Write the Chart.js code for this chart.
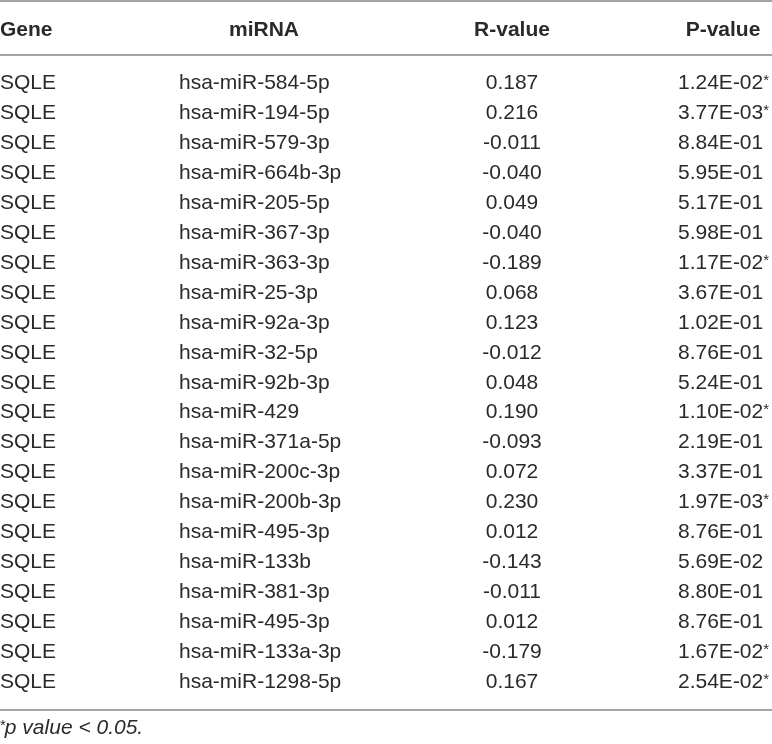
<!DOCTYPE html>
<html>
<head>
<meta charset="utf-8">
<script src="https://cdn.jsdelivr.net/npm/chart.js@4.4.1/dist/chart.umd.min.js"></script>
<style>
  html, body { margin: 0; padding: 0; background: #fff; }
  #wrap { width: 772px; height: 744px; }
</style>
</head>
<body>
<div id="wrap"><canvas id="table" width="772" height="744"></canvas></div>
<script>
// table data
const headers = ["Gene", "miRNA", "R-value", "P-value"];

const genes = ["SQLE", "SQLE", "SQLE", "SQLE", "SQLE", "SQLE", "SQLE",
               "SQLE", "SQLE", "SQLE", "SQLE", "SQLE", "SQLE", "SQLE",
               "SQLE", "SQLE", "SQLE", "SQLE", "SQLE", "SQLE", "SQLE"];

const mirnas = ["hsa-miR-584-5p", "hsa-miR-194-5p", "hsa-miR-579-3p", "hsa-miR-664b-3p",
                "hsa-miR-205-5p", "hsa-miR-367-3p", "hsa-miR-363-3p", "hsa-miR-25-3p",
                "hsa-miR-92a-3p", "hsa-miR-32-5p", "hsa-miR-92b-3p", "hsa-miR-429",
                "hsa-miR-371a-5p", "hsa-miR-200c-3p", "hsa-miR-200b-3p", "hsa-miR-495-3p",
                "hsa-miR-133b", "hsa-miR-381-3p", "hsa-miR-495-3p", "hsa-miR-133a-3p",
                "hsa-miR-1298-5p"];

const rValues = [0.187, 0.216, -0.011, -0.040, 0.049, -0.040, -0.189, 0.068, 0.123, -0.012,
                 0.048, 0.190, -0.093, 0.072, 0.230, 0.012, -0.143, -0.011, 0.012, -0.179, 0.167];

const pValues = [1.24e-2, 3.77e-3, 8.84e-1, 5.95e-1, 5.17e-1, 5.98e-1, 1.17e-2, 3.67e-1,
                 1.02e-1, 8.76e-1, 5.24e-1, 1.10e-2, 2.19e-1, 3.37e-1, 1.97e-3, 8.76e-1,
                 5.69e-2, 8.80e-1, 8.76e-1, 1.67e-2, 2.54e-2];

const footnote = "p value < 0.05.";
const alpha = 0.05;

// layout (pixel units on both hidden axes)
const WIDTH = 772, HEIGHT = 744;
const ROW_FIRST = 89, ROW_STEP = 29.95;   // text baselines
const HEADER_Y = 36, FOOT_Y = 734;
const RULES = [1, 55, 710];
const COL = { gene: 0, mirna: 179, mirnaHead: 264, r: 512, pHead: 723, p: 678 };
const TEXT = "#2a2a2a";
const FONT = "'Liberation Sans', Arial, sans-serif";

function rowY(i) { return ROW_FIRST + i * ROW_STEP; }

function fmtP(p) {
    let [m, e] = p.toExponential(2).split("e");
    let sign = e[0] === "-" ? "-" : "+";
    let d = Math.abs(parseInt(e)).toString().padStart(2, "0");
    return m + "E" + sign.replace("+", "+") + d;
}

function column(texts, x, align, extra) {
    return Object.assign({
        data: texts.map((t, i) => ({ x: x, y: rowY(i) })),
        texts: texts,
        align: align,
        weight: "normal",
        pointRadius: 0,
        showLine: false
    }, extra || {});
}

let datasets = [];

// horizontal rules
RULES.forEach(y => {
    datasets.push({
        data: [{ x: 0, y: y }, { x: WIDTH, y: y }],
        showLine: true,
        borderColor: "#a4a4a4",
        borderWidth: 2,
        pointRadius: 0,
        clip: false
    });
});

// header row
datasets.push({
    data: [COL.gene, COL.mirnaHead, COL.r, COL.pHead].map(x => ({ x: x, y: HEADER_Y })),
    texts: headers,
    aligns: ["left", "center", "center", "center"],
    weight: "bold",
    pointRadius: 0
});

datasets.push(column(genes, COL.gene, "left"));
datasets.push(column(mirnas, COL.mirna, "left"));
datasets.push(column(rValues.map(v => v.toFixed(3)), COL.r, "center"));
datasets.push(column(pValues.map(fmtP), COL.p, "left", { stars: pValues.map(p => p < alpha) }));

// footnote
datasets.push({
    data: [{ x: 0, y: FOOT_Y }],
    texts: [footnote],
    align: "left",
    weight: "normal",
    italic: true,
    leadStar: true,
    pointRadius: 0
});

// draws the cell texts at the positions the scales give the points
const cellText = {
    id: "cellText",
    afterDatasetsDraw(chart) {
        let ctx = chart.ctx;
        chart.data.datasets.forEach((ds, di) => {
            if (!ds.texts) return;
            let meta = chart.getDatasetMeta(di);
            meta.data.forEach((el, j) => {
                let style = ds.italic ? "italic " : "";
                let size = 21;
                ctx.save();
                ctx.fillStyle = TEXT;
                ctx.textBaseline = "alphabetic";
                ctx.textAlign = ds.aligns ? ds.aligns[j] : ds.align;
                let x = el.x;
                if (ds.leadStar) {
                    ctx.font = "15px " + FONT;
                    ctx.textAlign = "left";
                    ctx.fillText("*", x, el.y - 4);
                    x += ctx.measureText("*").width - 1;
                }
                ctx.font = style + ds.weight + " " + size + "px " + FONT;
                ctx.fillText(ds.texts[j], x, el.y);
                if (ds.stars && ds.stars[j]) {
                    let w = ctx.measureText(ds.texts[j]).width;
                    ctx.font = "15px " + FONT;
                    ctx.textAlign = "left";
                    ctx.fillText("*", x + w, el.y - 4);
                }
                ctx.restore();
            });
        });
    }
};

new Chart(document.getElementById("table"), {
    type: "scatter",
    data: { datasets: datasets },
    options: {
        responsive: false,
        animation: false,
        events: [],
        layout: { padding: 0 },
        plugins: { legend: { display: false }, tooltip: { enabled: false } },
        scales: {
            x: { type: "linear", display: false, min: 0, max: WIDTH },
            y: { type: "linear", display: false, min: 0, max: HEIGHT, reverse: true }
        }
    },
    plugins: [cellText]
});
</script>
</body>
</html>
